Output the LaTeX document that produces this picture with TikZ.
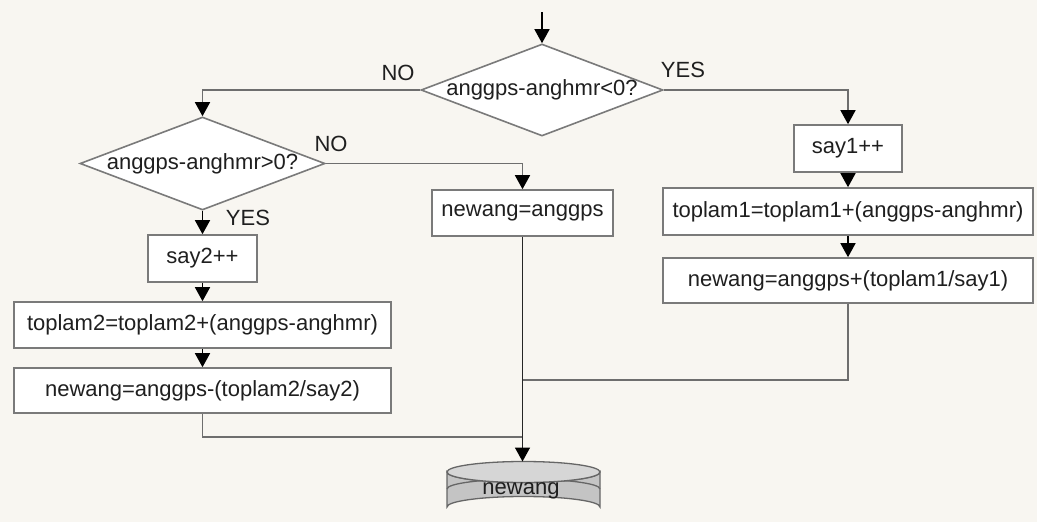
\documentclass[tikz,border=0pt]{standalone}
\usepackage{fontspec}
\setmainfont{Liberation Sans}
\usetikzlibrary{arrows.meta,shapes.geometric}
\definecolor{bgc}{HTML}{F8F6F1}
\definecolor{edgec}{HTML}{7A7A7A}
\definecolor{linec}{HTML}{6E6E6E}
\definecolor{dbbody}{HTML}{C4C4C4}
\definecolor{dbtopc}{HTML}{D6D6D6}
\tikzset{
  txt/.style={font=\fontsize{22}{26}\selectfont, text=black!88},
  box/.style={txt, draw=edgec, line width=1.6pt, fill=white, inner sep=0pt, minimum height=46pt},
  dia/.style={diamond, draw=edgec, line width=1.6pt, fill=white, inner sep=0pt},
  conn/.style={draw=linec, line width=1.5pt},
  arr/.style={conn, -{Triangle[length=14pt, width=15pt, color=black]}},
  lbl/.style={txt, inner sep=0pt}
}
\begin{document}
\begin{tikzpicture}[x=1pt,y=-1pt]
\fill[bgc] (0,0) rectangle (1037,522);
\useasboundingbox (0,0) rectangle (1037,522);

% decisions
\node[dia, minimum width=242pt, minimum height=92pt,
      label={[txt]center:anggps-anghmr<0?}] (d1) at (542,90) {};
\node[dia, minimum width=245pt, minimum height=93pt,
      label={[txt]center:anggps-anghmr>0?}] (d2) at (202.5,163.5) {};

% left column
\node[box, minimum width=109pt, minimum height=47pt] (say2) at (202.5,258.5) {say2++};
\node[box, minimum width=377pt] (t2) at (202.5,325) {toplam2=toplam2+(anggps-anghmr)};
\node[box, minimum width=377pt, minimum height=45pt] (n2) at (202.5,390.5) {newang=anggps-(toplam2/say2)};

% middle
\node[box, minimum width=181pt] (n0) at (522.5,213) {newang=anggps};

% right column
\node[box, minimum width=108pt, minimum height=47pt] (say1) at (848,148.5) {say1++};
\node[box, minimum width=370pt, minimum height=47pt] (t1) at (848,211.5) {toplam1=toplam1+(anggps-anghmr)};
\node[box, minimum width=370pt, minimum height=45pt] (n1) at (848,280.5) {newang=anggps+(toplam1/say1)};

% database
\fill[dbbody, draw=black!60, line width=1.3pt]
  (447,472) -- (447,507) arc[start angle=180, end angle=360, x radius=76.5, y radius=10.5]
  -- (600,472) arc[start angle=0, end angle=180, x radius=76.5, y radius=10.5] -- cycle;
\draw[black!60, line width=1.3pt] (447,489) arc[start angle=180, end angle=360, x radius=76.5, y radius=10];
\fill[dbtopc, draw=black!60, line width=1.3pt] (523.5,472) ellipse[x radius=76.5, y radius=10.5];
\node[lbl] (db) at (521,491) {newang};
\coordinate (dbtop) at (522.5,461.5);

% labels
\node[lbl] (no1) at (398,73) {NO};
\node[lbl] (yes1) at (683,70) {YES};
\node[lbl] (no2) at (331,144) {NO};
\node[lbl] (yes2) at (248,218) {YES};

% connectors
\coordinate (start) at (542,12);
\coordinate (j2) at (522.5,437);
\coordinate (j1) at (522.5,380);
\draw[arr, draw=black] (start) -- (d1.north);
\draw[arr] (d1.west) -| (d2.north);
\draw[arr] (d1.east) -| (say1.north);
\draw[arr] (d2.east) -| (n0.north);
\draw[arr, draw=black] (d2.south) -- (say2.north);
\draw[arr, draw=black] (say2.south) -- (t2.north);
\draw[arr, draw=black] (t2.south) -- (n2.north);
\draw[arr, draw=black] (say1.south) -- (t1.north);
\draw[arr, draw=black] (t1.south) -- (n1.north);
\draw[conn] (n2.south) |- (j2);
\draw[conn] (n1.south) |- (j1);
\draw[arr, draw=black!85] (n0.south) -- (dbtop);
\end{tikzpicture}
\end{document}
